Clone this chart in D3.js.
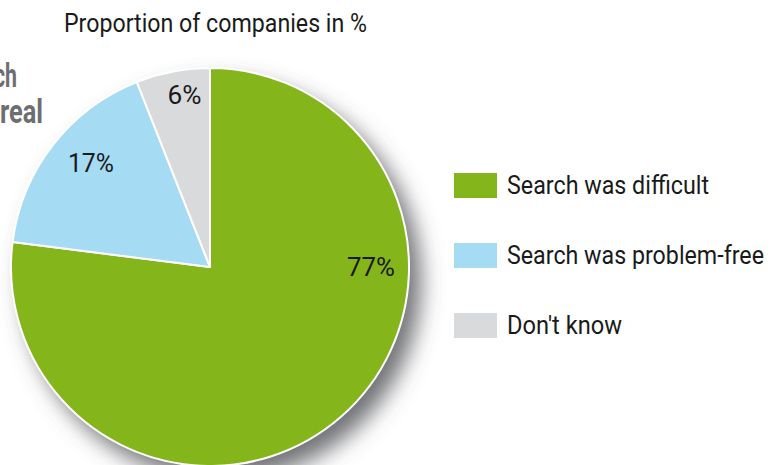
<!DOCTYPE html>
<html>
<head>
<meta charset="utf-8">
<script src="https://cdn.jsdelivr.net/npm/d3@7"></script>
<style>
  html, body { margin: 0; padding: 0; background: #fff; }
  svg { display: block; }
  text { font-family: "Liberation Sans Narrow", "Arial Narrow", "Roboto", sans-serif; }
</style>
</head>
<body>
<svg id="chart" width="774" height="465"></svg>
<script>
// Survey answers (share of companies, %)
const categories = ["Search was difficult", "Search was problem-free", "Don't know"];
const values = [77, 17, 6];
const colors = ["#84b61b", "#a5dbf3", "#d9dadc"];
const title = "Proportion of companies in %";
const sideHeading = ["ch", "real"];

const svg = d3.select("#chart");
const cx = 210, cy = 267, R = 199;

// condensed look: fit each text to its measured width
function fitWidth(sel, w) {
  sel.attr("textLength", w).attr("lengthAdjust", "spacingAndGlyphs");
}

// soft drop shadow beneath the pie
const defs = svg.append("defs");
const f = defs.append("filter").attr("id", "shadow")
  .attr("x", "-20%").attr("y", "-20%").attr("width", "150%").attr("height", "150%");
f.append("feDropShadow").attr("dx", 12).attr("dy", 14).attr("stdDeviation", 11)
  .attr("flood-color", "#4d4f54").attr("flood-opacity", 0.8);

// heading
svg.append("text")
  .attr("x", 64).attr("y", 32)
  .attr("font-size", 25).attr("fill", "#1a1a1a")
  .call(fitWidth, 303)
  .text(title);

// side heading, running off the left edge
const sideEnds = [17, 43];
const sideW = [23, 43];
svg.append("g").selectAll("text").data(sideHeading).join("text")
  .attr("x", (d, i) => sideEnds[i] - sideW[i]).attr("y", (d, i) => 87 + i * 36)
  .attr("font-size", 34).attr("font-weight", "bold").attr("fill", "#6d6e71")
  .each(function (d, i) { d3.select(this).call(fitWidth, sideW[i]); })
  .text(d => d);

const pie = d3.pie().sort(null).value(d => d);
const arcs = pie(values);
const arc = d3.arc().innerRadius(0).outerRadius(R);

const g = svg.append("g").attr("transform", `translate(${cx},${cy})`);

// shadow disc, drawn once behind the slices
g.append("circle").attr("r", R).attr("fill", "#fff").attr("filter", "url(#shadow)");

g.selectAll("path.slice").data(arcs).join("path")
  .attr("class", "slice")
  .attr("d", arc)
  .attr("fill", (d, i) => colors[i])
  .attr("stroke", "#fff").attr("stroke-width", 2).attr("stroke-linejoin", "round");

// value labels: the large slice is labelled at 3 o'clock, the others near mid-slice
const labelRadius = [161, 157, 172];
const labelWidth = [48, 46, 34];
const labelAngle = d => d.index === 0
  ? Math.PI / 2 + 0.012
  : (d.startAngle + d.endAngle) / 2 + (d.index === 1 ? 0.05 : 0.04);
g.selectAll("text.val").data(arcs).join("text")
  .attr("class", "val")
  .attr("x", d => labelRadius[d.index] * Math.sin(labelAngle(d)))
  .attr("y", d => -labelRadius[d.index] * Math.cos(labelAngle(d)))
  .attr("text-anchor", "middle").attr("dy", "0.3em")
  .attr("font-size", 25).attr("fill", "#1a1a1a")
  .each(function (d) { d3.select(this).call(fitWidth, labelWidth[d.index]); })
  .text(d => d.data + "%");

// legend
const legendWidth = [202, 257, 115];
const legend = svg.append("g").attr("transform", "translate(454,173)");
const item = legend.selectAll("g").data(categories).join("g")
  .attr("transform", (d, i) => `translate(0,${i * 70})`);
item.append("rect").attr("width", 43).attr("height", 25)
  .attr("fill", (d, i) => colors[i]);
item.append("text").attr("x", 53).attr("y", 12.5).attr("dy", "0.34em")
  .attr("font-size", 25).attr("fill", "#1a1a1a")
  .each(function (d, i) { d3.select(this).call(fitWidth, legendWidth[i]); })
  .text(d => d);
</script>
</body>
</html>
